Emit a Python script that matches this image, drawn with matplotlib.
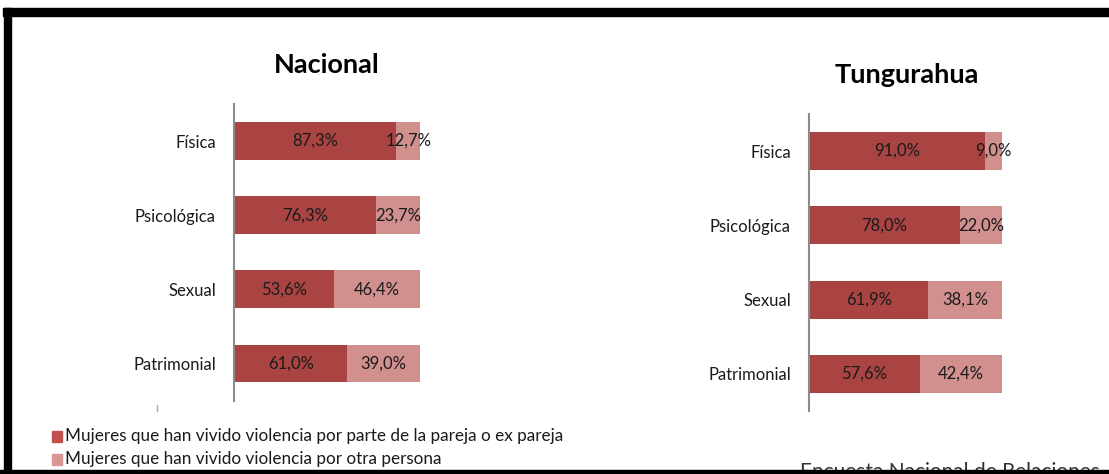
import matplotlib
matplotlib.use("Agg")
import matplotlib.pyplot as plt
from matplotlib.patches import Rectangle

categories = ["Física", "Psicológica", "Sexual", "Patrimonial"]
nacional_pareja = [87.3, 76.3, 53.6, 61.0]
nacional_otra = [12.7, 23.7, 46.4, 39.0]
tung_pareja = [91.0, 78.0, 61.9, 57.6]
tung_otra = [9.0, 22.0, 38.1, 42.4]
legend_labels = ["Mujeres que han vivido violencia por parte de la pareja o ex pareja",
                 "Mujeres que han vivido violencia por otra persona"]

DARK = "#A94442"
LIGHT = "#D18F8E"
LEG_DARK = "#C0504D"
LEG_LIGHT = "#D99694"
FONT = ["Lato", "DejaVu Sans"]

W, H = 1109, 474
fig = plt.figure(figsize=(W / 100, H / 100), dpi=100)
fig.patch.set_facecolor("white")


def px_axes(x0, y0, x1, y1):
    return fig.add_axes([x0 / W, 1 - y1 / H, (x1 - x0) / W, (y1 - y0) / H])


def fmt(v):
    return f"{v:.1f}%".replace(".", ",")


def panel(ax, a, b, title, title_xy):
    y = range(len(categories))
    ax.barh(y, a, height=0.51, color=DARK, edgecolor="none")
    ax.barh(y, b, left=a, height=0.51, color=LIGHT, edgecolor="none")
    for i, (va, vb) in enumerate(zip(a, b)):
        ax.text(va / 2, i, fmt(va), ha="center", va="center", fontsize=12,
                family=FONT, color="#1a1a1a")
        ax.text(va + vb / 2, i, fmt(vb), ha="center", va="center", fontsize=12,
                family=FONT, color="#1a1a1a")
    ax.set_xlim(0, 100)
    ax.set_ylim(len(categories) - 0.5, -0.5)
    ax.set_yticks(list(y))
    ax.set_yticklabels(categories, family=FONT, fontsize=12, color="#1a1a1a")
    ax.tick_params(axis="y", length=0, pad=13)
    ax.set_xticks([])
    for s in ["top", "right", "bottom"]:
        ax.spines[s].set_visible(False)
    ax.spines["left"].set_color("#8c8c8c")
    ax.spines["left"].set_linewidth(1.5)
    ax.patch.set_alpha(0)
    fig.text(title_xy[0] / W, 1 - title_xy[1] / H, title, ha="center", va="center",
             fontsize=19.5, fontweight="bold", family=FONT, color="black")


ax1 = px_axes(234, 104, 420, 400.5)
panel(ax1, nacional_pareja, nacional_otra, "Nacional", (327, 65))

ax2 = px_axes(809, 114, 1002, 411)
panel(ax2, tung_pareja, tung_otra, "Tungurahua", (907, 75))

# legend
for yc, col, lab in [(436, LEG_DARK, legend_labels[0]), (459, LEG_LIGHT, legend_labels[1])]:
    fig.patches.append(Rectangle((52 / W, 1 - (yc + 5.5) / H), 10 / W, 11 / H,
                                 transform=fig.transFigure, color=col))
    fig.text(65 / W, 1 - yc / H, lab, ha="left", va="center", fontsize=12.3,
             family=FONT, color="#1a1a1a")

# small artifact mark
fig.lines.append(plt.Line2D([157 / W, 157 / W], [1 - 405 / H, 1 - 411 / H],
                            transform=fig.transFigure, color="#b0b0b0", lw=1))

# footer text (cut off by the bottom edge of the screenshot, as in the reference)
fig.text(800 / W, 1 - 462 / H, "Encuesta Nacional de Relaciones", ha="left", va="top",
         fontsize=15, family=FONT, color="#333333", zorder=1)

# black frame (screenshot border)
fig.patches.append(Rectangle((3 / W, 1 - 16 / H), 1, 8 / H, transform=fig.transFigure,
                             color="black", zorder=10))
fig.patches.append(Rectangle((4 / W, 0), 7 / W, 1 - 8 / H, transform=fig.transFigure,
                             color="black", zorder=10))
fig.patches.append(Rectangle((0, 0), 1, 4 / H, transform=fig.transFigure,
                             color="black", zorder=10))

fig.savefig("out.png", dpi=100, facecolor="white")
